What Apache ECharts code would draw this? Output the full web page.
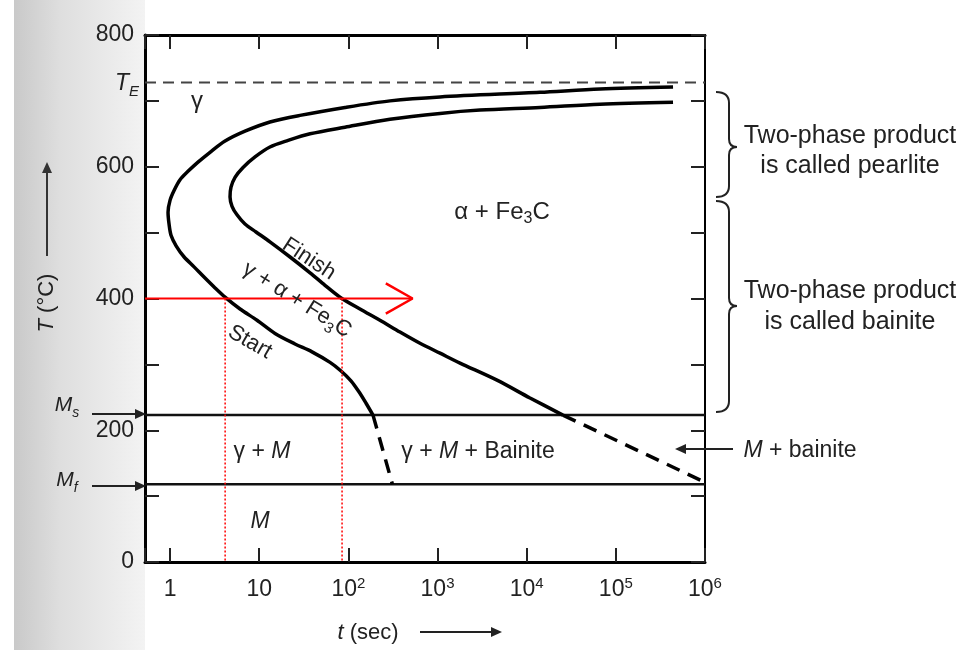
<!DOCTYPE html>
<html><head><meta charset="utf-8">
<script src="https://cdn.jsdelivr.net/npm/echarts@6/dist/echarts.min.js"></script>
<style>html,body{margin:0;padding:0;background:#fff}#c{width:973px;height:650px}</style>
</head><body><div id="c"></div>
<script>
// ---- axis ranges & ticks ----
const X_MIN = 0.524, X_MAX = 1e6;
const xTickValues = [1, 10, 100, 1000, 10000, 100000, 1000000];
const xTickLabels = ['1', '10', '10{sup|2}', '10{sup|3}', '10{sup|4}', '10{sup|5}', '10{sup|6}'];
const yLabelValues = [0, 200, 400, 600, 800];

// ---- characteristic temperatures (°C) ----
const T_E = 728;
const M_S = 223;
const M_F = 118;

// ---- transformation start curve (t in s, T in °C) ----
const startTime = [4.38e5, 6.64e4, 1.41e4, 1067, 293, 91.8, 28.7, 13.2, 6.93, 4.14, 2.81, 2.06, 1.59, 1.29, 1.11, 1.0, 0.95,
  0.975, 1.026, 1.17, 1.44, 1.86, 2.47, 3.20, 4.14, 6.10, 9.46, 15.05, 25.2, 39.1, 62.3, 82.8, 107, 132, 158, 189];
const startTemp = [721, 718, 713, 706, 700, 690, 678, 668, 654, 639, 622, 607, 593, 580, 564, 549, 531,
  513, 496, 480, 463, 448, 431, 416, 402, 384, 367, 347, 331, 319, 303, 290, 275, 258, 241, 223];
const startDashTime = [189, 312];
const startDashTemp = [223, 118];

// ---- transformation finish curve ----
const finishTime = [4.38e5, 6.64e4, 1.41e4, 3000, 1067, 293, 91.8, 37.2, 21.1, 13.2, 8.98, 6.59, 5.36, 4.83, 4.71,
  4.96, 5.64, 6.93, 9.21, 13.2, 22.2, 37.2, 54.7, 80.6, 135, 226, 380, 636, 1067, 1787, 4645, 10900, 25500];
const finishTemp = [698, 695, 690, 686, 681, 672, 660, 650, 640, 630, 615, 599, 584, 569, 554,
  540, 527, 513, 501, 486, 463, 439, 420, 402, 384, 367, 349, 332, 317, 302, 276, 249, 223];
const finishDashTime = [25500, 1e6];
const finishDashTemp = [223, 121];

// ---- isothermal path at 400 °C ----
const isoTemp = 400;
const isoArrowEnd = 525;
const isoStartTime = 4.15;
const isoFinishTime = 85;

const pairs = (xs, ys) => xs.map((x, i) => [x, ys[i]]);
const FONT = "'Liberation Sans', Arial, Helvetica, sans-serif";

const chart = echarts.init(document.getElementById('c'));

const baseAxisX = {
  type: 'log', min: X_MIN, max: X_MAX, logBase: 10,
  axisLine: { show: true, onZero: false, lineStyle: { color: '#000', width: 3 } },
  axisTick: { show: true, inside: true, length: 14, lineStyle: { color: '#222', width: 2 } },
  splitLine: { show: false }, minorTick: { show: false }
};
const baseAxisY = {
  type: 'value', min: 0, max: 800, interval: 100,
  axisLine: { show: true, onZero: false, lineStyle: { color: '#000', width: 3 } },
  axisTick: { show: true, inside: true, length: 14, lineStyle: { color: '#222', width: 2 } },
  splitLine: { show: false }
};

const lineSeries = (data, style, z) => ({
  type: 'line', data, showSymbol: false, symbol: 'none', smooth: style.smooth || 0,
  lineStyle: style, silent: true, z: z || 3, animation: false, clip: false
});

// chevron head of the red arrow, derived from its tip in data space
const tipLog = Math.log10(isoArrowEnd);
const backTime = Math.pow(10, tipLog - 0.30);
const chevron = [[backTime, isoTemp + 23], [isoArrowEnd, isoTemp], [backTime, isoTemp - 23]];

function txt(x, y, text, opts) {
  opts = opts || {};
  const size = opts.size || 23;
  return {
    type: 'text', x, y, rotation: opts.rot || 0, z: 10, silent: true,
    style: {
      text, fill: opts.color || '#222', font: size + 'px ' + FONT,
      align: opts.align || 'center', verticalAlign: 'middle',
      rich: {
        n: { fontSize: size, lineHeight: 30, fontFamily: FONT, verticalAlign: 'middle' },
        i: { fontSize: size, lineHeight: 30, fontFamily: FONT, fontStyle: 'italic', verticalAlign: 'middle' },
        sub: { fontSize: Math.round(size * 0.66), lineHeight: 18, fontFamily: FONT, verticalAlign: 'bottom' },
        isub: { fontSize: Math.round(size * 0.66), lineHeight: 18, fontFamily: FONT, fontStyle: 'italic', verticalAlign: 'bottom' }
      }
    }
  };
}
function seg(x1, y1, x2, y2, color, w) {
  return { type: 'line', z: 10, silent: true, shape: { x1, y1, x2, y2 }, style: { stroke: color, lineWidth: w } };
}
function quad(x1, y1, cx, cy, x2, y2, color, w) {
  return { type: 'bezierCurve', z: 10, silent: true, shape: { x1, y1, x2, y2, cpx1: cx, cpy1: cy }, style: { stroke: color, lineWidth: w, fill: null } };
}
function arrow(x1, y1, x2, y2, color, w) {
  const ang = Math.atan2(y2 - y1, x2 - x1), L = 11, H = 5;
  const bx = x2 - L * Math.cos(ang), by = y2 - L * Math.sin(ang);
  const px = -Math.sin(ang) * H, py = Math.cos(ang) * H;
  return [
    seg(x1, y1, bx, by, color, w),
    { type: 'polygon', z: 10, silent: true, shape: { points: [[x2, y2], [bx + px, by + py], [bx - px, by - py]] }, style: { fill: color } }
  ];
}
function brace(xl, xm, xt, yTop, yTip, yBot, color) {
  return [
    quad(xl, yTop, xm, yTop, xm, yTop + 11, color, 2),
    seg(xm, yTop + 11, xm, yTip - 8, color, 2),
    quad(xm, yTip - 8, xm, yTip, xt, yTip, color, 2),
    quad(xt, yTip, xm, yTip, xm, yTip + 8, color, 2),
    seg(xm, yTip + 8, xm, yBot - 11, color, 2),
    quad(xm, yBot - 11, xm, yBot, xl, yBot, color, 2)
  ];
}
function buildGraphics() {
  const g = [];
  g.push({ type: 'rect', z: -10, silent: true, shape: { x: 14, y: 0, width: 131, height: 650 },
    style: { fill: new echarts.graphic.LinearGradient(0, 0, 1, 0, [
      { offset: 0, color: '#c9c9c9' }, { offset: 0.35, color: '#dedede' }, { offset: 1, color: '#f3f3f3' }]) } });
  g.push(txt(47, 303, '{i|T} {n|(°C)}', { rot: Math.PI / 2, size: 22 }));
  g.push(...arrow(47, 256, 47, 162, '#333', 2));
  g.push(txt(368, 633, '{i|t} {n|(sec)}', { size: 22 }));
  g.push(...arrow(420, 632, 502, 632, '#222', 2));
  g.push(txt(127, 84, '{i|T}{isub|E}', { size: 23 }));
  g.push(txt(67, 405, '{i|M}{isub|s}', { size: 21 }));
  g.push(...arrow(92, 414, 146, 414, '#222', 2));
  g.push(txt(67, 480, '{i|M}{isub|f}', { size: 21 }));
  g.push(...arrow(92, 486, 146, 486, '#222', 2));
  g.push(txt(197, 101, '{n|γ}', { size: 24 }));
  g.push(txt(502, 212, '{n|α + Fe}{sub|3}{n|C}', { size: 24 }));
  g.push(txt(309, 259, '{n|Finish}', { size: 22, rot: -33 * Math.PI / 180 }));
  g.push(txt(297, 300, '{n|γ + α + Fe}{sub|3}{n|C}', { size: 22, rot: -32 * Math.PI / 180 }));
  g.push(txt(250, 342, '{n|Start}', { size: 22, rot: -30 * Math.PI / 180 }));
  g.push(txt(262, 452, '{n|γ + }{i|M}', { size: 23 }));
  g.push(txt(478, 452, '{n|γ + }{i|M}{n| + Bainite}', { size: 23 }));
  g.push(txt(260, 522, '{i|M}', { size: 23 }));
  g.push(txt(800, 451, '{i|M}{n| + bainite}', { size: 23 }));
  g.push(...arrow(733, 449, 675, 449, '#222', 2));
  g.push(...brace(716, 729, 737, 92, 147, 197, '#222'));
  g.push(...brace(716, 729, 737, 201, 306, 412, '#222'));
  g.push(txt(850, 136, '{n|Two-phase product}', { size: 25 }));
  g.push(txt(850, 166, '{n|is called pearlite}', { size: 25 }));
  g.push(txt(850, 291, '{n|Two-phase product}', { size: 25 }));
  g.push(txt(850, 322, '{n|is called bainite}', { size: 25 }));
  return g;
}

chart.setOption({
  animation: false,
  backgroundColor: '#fff',
  grid: { left: 145, right: 268, top: 35, bottom: 88, show: false },
  xAxis: [
    Object.assign({}, baseAxisX, {
      position: 'bottom',
      axisLabel: {
        show: true, margin: 14, color: '#222', fontSize: 23, fontFamily: FONT, lineHeight: 28,
        formatter: v => { const i = xTickValues.findIndex(t => Math.abs(Math.log10(v) - Math.log10(t)) < 1e-6); return i >= 0 ? xTickLabels[i] : ''; },
        rich: { sup: { fontSize: 15, lineHeight: 14, verticalAlign: 'top', fontFamily: FONT, color: '#222' } }
      }
    }),
    Object.assign({}, baseAxisX, { position: 'top', axisLabel: { show: false } })
  ],
  yAxis: [
    Object.assign({}, baseAxisY, {
      position: 'left',
      axisLabel: { show: true, margin: 11, color: '#222', fontSize: 23, fontFamily: FONT,
        formatter: v => yLabelValues.indexOf(v) >= 0 ? String(v) : '' }
    }),
    Object.assign({}, baseAxisY, { position: 'right', axisLabel: { show: false }, axisLine: { show: true, onZero: false, lineStyle: { color: '#000', width: 2 } } })
  ],
  series: [
    lineSeries([[X_MIN, T_E], [X_MAX, T_E]], { color: '#444', width: 2, type: [11, 7] }, 2),
    lineSeries([[X_MIN, M_S], [X_MAX, M_S]], { color: '#111', width: 2.5 }, 2),
    lineSeries([[X_MIN, M_F], [X_MAX, M_F]], { color: '#111', width: 2.5 }, 2),
    lineSeries(pairs(startTime, startTemp), { color: '#000', width: 3.5, smooth: 0.3 }),
    lineSeries(pairs(startDashTime, startDashTemp), { color: '#000', width: 3.5, type: [14, 9] }),
    lineSeries(pairs(finishTime, finishTemp), { color: '#000', width: 3.5, smooth: 0.3 }),
    lineSeries(pairs(finishDashTime, finishDashTemp), { color: '#000', width: 3.5, type: [14, 9] }),
    lineSeries([[X_MIN, isoTemp], [isoArrowEnd, isoTemp]], { color: '#ff0000', width: 2.2 }, 5),
    lineSeries(chevron, { color: '#ff0000', width: 2.5 }, 5),
    lineSeries([[isoStartTime, isoTemp], [isoStartTime, 0]], { color: '#ff0000', width: 1.5, type: [2, 2] }, 4),
    lineSeries([[isoFinishTime, isoTemp], [isoFinishTime, 0]], { color: '#ff0000', width: 1.5, type: [2, 2] }, 4)
  ],
  graphic: { elements: buildGraphics() }
});
</script>
</body></html>
